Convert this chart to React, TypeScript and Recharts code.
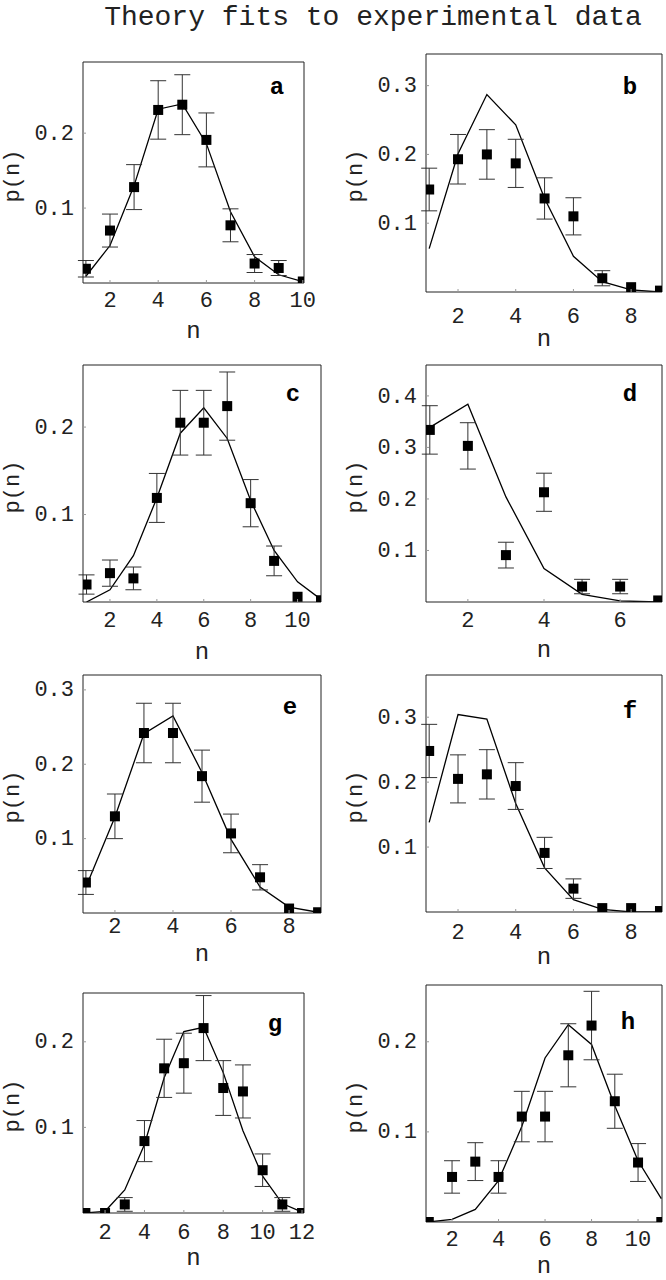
import { ComposedChart, ErrorBar, Line, ReferenceLine, Scatter, XAxis, YAxis } from "recharts"

const MONO = '"Liberation Mono", "Courier New", monospace'
const INK = "#222"

// a
const aN = [1, 2, 3, 4, 5, 6, 7, 8, 9, 10]
const aP = [0.019, 0.07, 0.128, 0.231, 0.238, 0.191, 0.077, 0.026, 0.02, 0.002]
const aErr = [0.011, 0.022, 0.03, 0.039, 0.04, 0.036, 0.022, 0.012, 0.01, 0]
const aFit = [0.009, 0.05, 0.13, 0.232, 0.239, 0.186, 0.095, 0.035, 0.011, 0.002]
const aTicksX = [2, 4, 6, 8, 10]
const aTicksY = [0.1, 0.2]

// b
const bN = [1, 2, 3, 4, 5, 6, 7, 8, 9]
const bP = [0.149, 0.193, 0.2, 0.187, 0.136, 0.11, 0.02, 0.007, 0.002]
const bErr = [0.031, 0.036, 0.036, 0.035, 0.03, 0.027, 0.011, 0, 0]
const bFit = [0.063, 0.201, 0.287, 0.243, 0.136, 0.052, 0.015, 0.003, 0]
const bTicksX = [2, 4, 6, 8]
const bTicksY = [0.1, 0.2, 0.3]

// c
const cN = [1, 2, 3, 4, 5, 6, 7, 8, 9, 10, 11]
const cP = [0.02, 0.033, 0.027, 0.119, 0.205, 0.205, 0.224, 0.113, 0.047, 0.006, 0.002]
const cErr = [0.011, 0.015, 0.013, 0.028, 0.037, 0.037, 0.039, 0.027, 0.017, 0, 0]
const cFit = [0, 0.014, 0.053, 0.119, 0.193, 0.222, 0.187, 0.116, 0.059, 0.023, 0.003]
const cTicksX = [2, 4, 6, 8, 10]
const cTicksY = [0.1, 0.2]

// d
const dN = [1, 2, 3, 4, 5, 6, 7]
const dP = [0.334, 0.303, 0.091, 0.213, 0.03, 0.03, 0.003]
const dErr = [0.047, 0.045, 0.025, 0.037, 0.014, 0.014, 0]
const dFit = [0.339, 0.384, 0.204, 0.065, 0.015, 0.002, 0]
const dTicksX = [2, 4, 6]
const dTicksY = [0.1, 0.2, 0.3, 0.4]

// e
const eN = [1, 2, 3, 4, 5, 6, 7, 8, 9]
const eP = [0.041, 0.13, 0.242, 0.242, 0.184, 0.107, 0.048, 0.006, 0.001]
const eErr = [0.016, 0.03, 0.04, 0.04, 0.035, 0.026, 0.017, 0, 0]
const eFit = [0.035, 0.129, 0.241, 0.265, 0.189, 0.099, 0.035, 0.008, 0.001]
const eTicksX = [2, 4, 6, 8]
const eTicksY = [0.1, 0.2, 0.3]

// f
const fN = [1, 2, 3, 4, 5, 6, 7, 8, 9]
const fP = [0.248, 0.205, 0.212, 0.194, 0.091, 0.036, 0.006, 0.006, 0.0015]
const fErr = [0.041, 0.037, 0.038, 0.036, 0.024, 0.015, 0, 0, 0]
const fFit = [0.138, 0.304, 0.297, 0.167, 0.068, 0.019, 0.004, 0, 0]
const fTicksX = [2, 4, 6, 8]
const fTicksY = [0.1, 0.2, 0.3]

// g
const gN = [1, 2, 3, 4, 5, 6, 7, 8, 9, 10, 11, 12]
const gP = [0, 0, 0.01, 0.084, 0.169, 0.175, 0.216, 0.146, 0.142, 0.05, 0.01, 0]
const gErr = [0, 0, 0.008, 0.024, 0.034, 0.035, 0.038, 0.032, 0.031, 0.019, 0.008, 0]
const gFit = [0, 0.002, 0.027, 0.08, 0.158, 0.212, 0.217, 0.164, 0.096, 0.043, 0.011, 0.001]
const gTicksX = [2, 4, 6, 8, 10, 12]
const gTicksY = [0.1, 0.2]

// h
const hN = [1, 2, 3, 4, 5, 6, 7, 8, 9, 10, 11]
const hP = [0, 0.05, 0.067, 0.05, 0.117, 0.117, 0.185, 0.218, 0.134, 0.066, 0]
const hErr = [0, 0.018, 0.021, 0.018, 0.028, 0.028, 0.035, 0.038, 0.03, 0.021, 0]
const hFit = [0, 0.003, 0.014, 0.046, 0.106, 0.182, 0.219, 0.197, 0.129, 0.068, 0.026]
const hTicksX = [2, 4, 6, 8, 10]
const hTicksY = [0.1, 0.2]

const rows = (n: number[], p: number[], err: number[], fit: number[]) =>
  n.map((v, i) => ({ n: v, p: p[i], err: err[i], fit: fit[i] }))

// box = frame [left, top, right, bottom] in page px
const panels = [
  { id: "a", data: rows(aN, aP, aErr, aFit), xt: aTicksX, yt: aTicksY, box: [83, 62, 304, 283], xd: [0.88, 10.05], ymax: 0.295, tickDy: 17.5, labelDy: 51, letter: [-27, 26] },
  { id: "b", data: rows(bN, bP, bErr, bFit), xt: bTicksX, yt: bTicksY, box: [426, 54, 662, 292], xd: [0.89, 9.07], ymax: 0.346, tickDy: 24, labelDy: 50, letter: [-32, 34] },
  { id: "c", data: rows(cN, cP, cErr, cFit), xt: cTicksX, yt: cTicksY, box: [83, 365, 321, 602], xd: [0.85, 11.0], ymax: 0.271, tickDy: 18.5, labelDy: 53, letter: [-28, 30] },
  { id: "d", data: rows(dN, dP, dErr, dFit), xt: dTicksX, yt: dTicksY, box: [426, 365, 662, 602], xd: [0.9, 7.1], ymax: 0.46, tickDy: 18.5, labelDy: 51, letter: [-32, 30] },
  { id: "e", data: rows(eN, eP, eErr, eFit), xt: eTicksX, yt: eTicksY, box: [83, 675, 321, 913], xd: [0.9, 9.1], ymax: 0.32, tickDy: 13, labelDy: 44, letter: [-31, 33] },
  { id: "f", data: rows(fN, fP, fErr, fFit), xt: fTicksX, yt: fTicksY, box: [426, 675, 662, 912], xd: [0.89, 9.07], ymax: 0.365, tickDy: 20, labelDy: 48, letter: [-32, 37] },
  { id: "g", data: rows(gN, gP, gErr, gFit), xt: gTicksX, yt: gTicksY, box: [83, 993, 304, 1213], xd: [0.88, 12.1], ymax: 0.257, tickDy: 19.5, labelDy: 48, letter: [-29, 32] },
  { id: "h", data: rows(hN, hP, hErr, hFit), xt: hTicksX, yt: hTicksY, box: [426, 985, 662, 1222], xd: [0.88, 11.03], ymax: 0.263, tickDy: 17.5, labelDy: 47, letter: [-34, 38] },
]

const Square = (props: any) => {
  const { cx, cy } = props
  if (cx == null || cy == null) return null
  return <rect x={cx - 5} y={cy - 5} width={10} height={10} fill="#000" />
}

function Panel({ cfg }: { cfg: (typeof panels)[number] }) {
  const [L, T, R, B] = cfg.box
  const w = R - L
  const h = B - T
  const padL = 60
  const padT = 6
  const padR = 26
  const padB = 40

  const BottomTick = (p: any) => (
    <g>
      <line x1={p.x} x2={p.x} y1={p.y} y2={p.y - 3} stroke="#999" />
      <text x={p.x} y={p.y + cfg.tickDy + 6.6} textAnchor="middle" fontFamily={MONO} fontSize={22} fill={INK}>
        {p.payload.value}
      </text>
    </g>
  )
  const LeftTick = (p: any) => (
    <g>
      <line x1={p.x} x2={p.x + 3} y1={p.y} y2={p.y} stroke="#999" />
      <text x={p.x - 9} y={p.y + 6.6} textAnchor="end" fontFamily={MONO} fontSize={22} fill={INK}>
        {Number(p.payload.value).toFixed(1)}
      </text>
    </g>
  )

  return (
    <>
      <div style={{ position: "absolute", left: L - padL, top: T - padT }}>
        <ComposedChart
          width={w + padL + padR}
          height={h + padT + padB}
          data={cfg.data}
          margin={{ top: padT, right: padR, left: 0, bottom: 0 }}
        >
          <XAxis
            dataKey="n"
            type="number"
            domain={cfg.xd}
            ticks={cfg.xt}
            interval={0}
            allowDataOverflow
            height={padB}
            tickSize={0}
            tickMargin={0}
            tickLine={false}
            axisLine={{ stroke: INK }}
            tick={BottomTick}
          />
          <YAxis
            type="number"
            domain={[0, cfg.ymax]}
            ticks={cfg.yt}
            interval={0}
            allowDataOverflow
            width={padL}
            tickSize={0}
            tickMargin={0}
            tickLine={false}
            axisLine={{ stroke: INK }}
            tick={LeftTick}
          />
          <ReferenceLine y={cfg.ymax} stroke={INK} />
          <ReferenceLine x={cfg.xd[1]} stroke={INK} />
          <Line dataKey="fit" type="linear" stroke="#000" strokeWidth={1.3} dot={false} isAnimationActive={false} />
          <Scatter dataKey="p" shape={Square} isAnimationActive={false}>
            <ErrorBar dataKey="err" direction="y" width={8} stroke="#333" strokeWidth={1} isAnimationActive={false} />
          </Scatter>
        </ComposedChart>
      </div>
      <div
        style={{
          position: "absolute",
          left: (L + R) / 2,
          top: B + cfg.labelDy,
          transform: "translate(-50%, -60%)",
          fontFamily: MONO,
          fontSize: 24,
          color: INK,
          lineHeight: 1,
        }}
      >
        n
      </div>
      <div
        style={{
          position: "absolute",
          left: L - 69,
          top: (T + B) / 2 + 3,
          transform: "translate(-50%, -50%) rotate(-90deg)",
          fontFamily: MONO,
          fontSize: 22,
          color: INK,
          lineHeight: 1,
          whiteSpace: "nowrap",
        }}
      >
        p(n)
      </div>
      <div
        style={{
          position: "absolute",
          left: R + cfg.letter[0],
          top: T + cfg.letter[1],
          transform: "translate(-50%, -50%)",
          fontFamily: MONO,
          fontWeight: "bold",
          fontSize: 24,
          color: "#000",
          lineHeight: 1,
        }}
      >
        {cfg.id}
      </div>
    </>
  )
}

export default function App() {
  return (
    <div
      style={{
        position: "absolute",
        left: 0,
        top: 0,
        width: 666,
        height: 1280,
        background: "#fff",
        overflow: "hidden",
      }}
    >
      <div
        style={{
          position: "absolute",
          left: 373,
          top: 4,
          transform: "translateX(-50%)",
          fontFamily: MONO,
          fontSize: 28,
          lineHeight: "28px",
          color: INK,
          whiteSpace: "nowrap",
        }}
      >
        Theory fits to experimental data
      </div>
      {panels.map((cfg) => (
        <Panel key={cfg.id} cfg={cfg} />
      ))}
    </div>
  )
}
